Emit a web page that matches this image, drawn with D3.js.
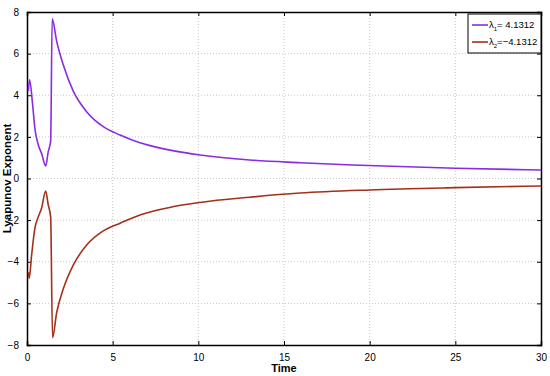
<!DOCTYPE html>
<html>
<head>
<meta charset="utf-8">
<script src="https://cdn.jsdelivr.net/npm/d3@7"></script>
<style>
  body { margin: 0; background: #fff; }
  svg text { font-family: "Liberation Sans", Arial, sans-serif; }
  .grid line { stroke: #c8c8c8; stroke-dasharray: 1,2; }
</style>
</head>
<body>
<div id="chart"></div>
<script>
const width = 550, height = 376;
const margin = { top: 12, right: 9, bottom: 31, left: 27 };

// values
const time1 = [0.08, 0.15, 0.33, 0.46, 0.66, 0.85, 1.09, 1.24, 1.38, 1.47, 1.73, 2.12, 2.70, 3.48, 4.45, 5.43, 6.59, 7.19, 8.5, 10.1, 13.0, 15.94, 19.0, 25.0, 30.0];
const lambda1 = [4.2, 4.74, 3.53, 2.41, 1.61, 1.21, 0.6, 1.29, 1.8, 7.67, 6.6, 5.45, 4.2, 3.21, 2.49, 2.09, 1.72, 1.58, 1.34, 1.13, 0.89, 0.76, 0.65, 0.49, 0.41];
const time2 = [0.08, 0.13, 0.27, 0.46, 0.66, 0.85, 1.09, 1.24, 1.38, 1.49, 1.73, 2.12, 2.70, 3.48, 4.45, 5.43, 6.59, 8.5, 10.1, 13.0, 15.94, 20.0, 25.0, 30.0];
const lambda2 = [-4.5, -4.8, -3.68, -2.4, -1.84, -1.43, -0.6, -1.27, -1.84, -7.65, -6.45, -5.3, -4.16, -3.2, -2.52, -2.15, -1.75, -1.36, -1.15, -0.9, -0.7, -0.55, -0.44, -0.36];
const seriesNames = ["λ1", "λ2"];
const seriesValues = ["= 4.1312", "=\u22124.1312"];
const colors = ["#8a2be2", "#a3301a"];
const xTicks = [0, 5, 10, 15, 20, 25, 30];
const yTicks = [-8, -6, -4, -2, 0, 2, 4, 6, 8];

const svg = d3.select('#chart').append('svg')
  .attr('width', width)
  .attr('height', height);

const x = d3.scaleLinear().domain([0, 30]).range([margin.left, width - margin.right]);
const y = d3.scaleLinear().domain([-8, 8]).range([height - margin.bottom, margin.top]);

// grid
svg.append('g').attr('class', 'grid')
  .selectAll('line.v').data(xTicks.slice(1, -1)).join('line')
  .attr('x1', d => x(d)).attr('x2', d => x(d))
  .attr('y1', margin.top).attr('y2', height - margin.bottom);
svg.append('g').attr('class', 'grid')
  .selectAll('line.h').data(yTicks.slice(1, -1)).join('line')
  .attr('x1', margin.left).attr('x2', width - margin.right)
  .attr('y1', d => y(d)).attr('y2', d => y(d));

// axes (matlab style box with inward ticks)
const xAxis = svg.append('g')
  .attr('transform', `translate(0,${height - margin.bottom})`)
  .call(d3.axisBottom(x).tickValues(xTicks).tickSize(-4).tickPadding(9));
const xTop = svg.append('g')
  .attr('transform', `translate(0,${margin.top})`)
  .call(d3.axisTop(x).tickValues(xTicks).tickSize(-4).tickFormat(''));
const yAxis = svg.append('g')
  .attr('transform', `translate(${margin.left},0)`)
  .call(d3.axisLeft(y).tickValues(yTicks).tickSize(-4).tickPadding(8).tickFormat(d => d < 0 ? '\u2212' + Math.abs(d) : d));
const yRight = svg.append('g')
  .attr('transform', `translate(${width - margin.right},0)`)
  .call(d3.axisRight(y).tickValues(yTicks).tickSize(-4).tickFormat(''));

[xAxis, xTop, yAxis, yRight].forEach(g => {
  g.select('.domain').attr('stroke', '#000').attr('stroke-width', 1.5);
  g.selectAll('.tick line').attr('stroke', '#000');
  g.selectAll('.tick text').attr('font-size', 10).attr('fill', '#000');
});

// lines
const line = d3.line().x(d => x(d[0])).y(d => y(d[1])).curve(d3.curveMonotoneX);
const data1 = time1.map((t, i) => [t, lambda1[i]]);
const data2 = time2.map((t, i) => [t, lambda2[i]]);

svg.append('path')
  .datum(data1)
  .attr('fill', 'none')
  .attr('stroke', colors[0])
  .attr('stroke-width', 1.6)
  .attr('d', line);
svg.append('path')
  .datum(data2)
  .attr('fill', 'none')
  .attr('stroke', colors[1])
  .attr('stroke-width', 1.6)
  .attr('d', line);

// axis labels
svg.append('text')
  .attr('x', x(15))
  .attr('y', height - 4)
  .attr('text-anchor', 'middle')
  .attr('font-size', 11)
  .attr('font-weight', 'bold')
  .text('Time');

svg.append('text')
  .attr('transform', `translate(11,${y(0)}) rotate(-90)`)
  .attr('text-anchor', 'middle')
  .attr('font-size', 11.5)
  .attr('font-weight', 'bold')
  .text('Lyapunov Exponent');

// legend
const legend = svg.append('g').attr('transform', 'translate(468,14)');
legend.append('rect')
  .attr('width', 73).attr('height', 39)
  .attr('fill', '#fff').attr('stroke', '#000').attr('stroke-width', 1);

seriesNames.forEach((name, i) => {
  const ly = 11 + i * 17;
  legend.append('line')
    .attr('x1', 4).attr('x2', 20)
    .attr('y1', ly).attr('y2', ly)
    .attr('stroke', colors[i]).attr('stroke-width', 1.6);
  const t = legend.append('text')
    .attr('x', 21).attr('y', ly + 3)
    .attr('font-size', 9.5)
    .attr('fill', '#000');
  t.append('tspan').text('λ');
  t.append('tspan').attr('font-size', 6).attr('dy', 3).text(name.slice(1));
  t.append('tspan').attr('dy', -3).text(seriesValues[i]);
});
</script>
</body>
</html>
